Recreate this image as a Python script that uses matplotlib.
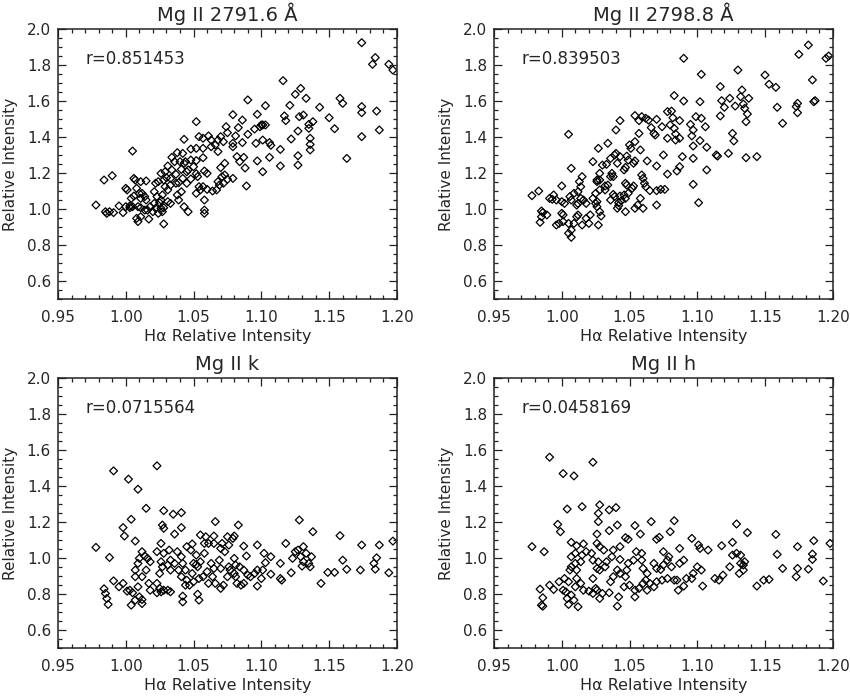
import matplotlib
matplotlib.use("Agg")
import matplotlib.pyplot as plt
from matplotlib.ticker import MultipleLocator, FormatStrFormatter

plt.rcParams['font.family'] = ['DejaVu Sans']

titles = ["Mg II 2791.6 Å", "Mg II 2798.8 Å", "Mg II k", "Mg II h"]
r_labels = ["r=0.851453", "r=0.839503", "r=0.0715564", "r=0.0458169"]
xlabel = "Hα Relative Intensity"
ylabel = "Relative Intensity"

# Panel 1: Mg II 2791.6 Å
x1 = [1.174, 1.184, 1.182, 1.194, 1.197, 1.116, 1.129, 1.125, 1.133, 1.090, 1.103, 1.121, 1.143, 1.158, 1.160,
      1.174, 1.174, 1.185, 1.117, 1.118, 1.128, 1.131, 1.135, 1.138, 1.150, 1.154, 1.187, 1.174, 1.163, 1.079,
      1.086, 1.097, 1.052, 1.083, 1.074, 1.099, 1.101, 1.103, 1.090, 1.081, 1.075, 1.070, 1.068, 1.061, 1.063,
      1.057, 1.054, 1.043, 1.048, 1.052, 1.057, 1.063, 1.066, 1.072, 1.079, 1.079, 1.086, 1.096, 1.101, 1.106,
      1.107, 1.114, 1.122, 1.127, 1.135, 1.136, 1.136, 1.136, 1.127, 1.127, 1.114, 1.106, 1.097, 1.101, 1.087,
      1.088, 1.082, 1.084, 1.073, 1.070, 1.073, 1.071, 1.075, 1.079, 1.069, 1.067, 1.064, 1.060, 1.057, 1.055,
      1.052, 1.054, 1.048, 1.046, 1.045, 1.042, 1.039, 1.041, 1.039, 1.038, 1.033, 1.031, 1.029, 1.027, 1.026,
      1.028, 1.027, 1.024, 1.022, 1.024, 1.026, 1.029, 1.031, 1.034, 1.036, 1.038, 1.040, 1.043, 1.041, 1.037,
      1.034, 1.033, 1.030, 1.028, 1.058, 1.060, 1.057, 1.052, 1.052, 1.053, 1.043, 1.046, 1.058, 1.058, 1.058,
      1.005, 0.984, 0.990, 0.978, 0.985, 0.986, 0.988, 0.991, 0.995, 0.998, 1.000, 1.003, 1.004, 1.006, 1.000,
      1.001, 1.006, 1.007, 1.011, 1.015, 1.008, 1.010, 1.012, 1.014, 1.011, 1.015, 1.009, 1.011, 1.008, 1.009,
      1.011, 1.014, 1.017, 1.020, 1.018, 1.021, 1.025, 1.028, 1.023, 1.021, 1.068, 1.072, 1.089, 1.068, 1.095,
      1.100, 1.042, 1.044, 1.048, 1.050, 1.045, 1.037, 1.033, 1.031, 1.026, 1.022, 1.016, 1.005, 1.003]
y1 = [1.924, 1.841, 1.804, 1.804, 1.772, 1.713, 1.670, 1.637, 1.615, 1.606, 1.574, 1.576, 1.565, 1.615, 1.587,
      1.569, 1.535, 1.544, 1.517, 1.491, 1.513, 1.522, 1.470, 1.485, 1.507, 1.446, 1.439, 1.402, 1.281, 1.524,
      1.494, 1.526, 1.485, 1.452, 1.457, 1.457, 1.467, 1.467, 1.415, 1.406, 1.424, 1.402, 1.383, 1.406, 1.383,
      1.393, 1.402, 1.387, 1.333, 1.337, 1.337, 1.346, 1.356, 1.374, 1.365, 1.346, 1.369, 1.365, 1.383, 1.369,
      1.354, 1.331, 1.389, 1.433, 1.448, 1.393, 1.359, 1.328, 1.296, 1.244, 1.239, 1.287, 1.267, 1.207, 1.287,
      1.228, 1.291, 1.263, 1.254, 1.230, 1.189, 1.180, 1.165, 1.170, 1.133, 1.106, 1.100, 1.109, 1.124, 1.106,
      1.087, 1.124, 1.167, 1.217, 1.143, 1.170, 1.146, 1.096, 1.050, 1.078, 1.133, 1.106, 1.124, 1.078, 1.050,
      1.007, 0.985, 0.976, 1.143, 1.152, 1.198, 1.207, 1.239, 1.287, 1.263, 1.313, 1.263, 1.254, 1.220, 1.193,
      1.217, 1.170, 1.174, 1.161, 1.211, 1.198, 1.285, 1.269, 1.196, 1.180, 1.013, 0.985, 0.994, 0.976, 1.050,
      1.322, 1.161, 1.185, 1.022, 0.985, 0.976, 0.985, 0.980, 1.017, 0.980, 1.013, 1.017, 1.059, 1.072, 1.115,
      1.106, 1.170, 1.161, 1.152, 1.156, 1.115, 1.087, 1.087, 1.069, 1.059, 1.050, 1.013, 1.007, 0.948, 0.930,
      0.957, 0.994, 0.944, 0.985, 1.013, 1.031, 1.035, 0.917, 1.069, 1.096, 1.152, 1.143, 1.128, 1.319, 1.444,
      1.467, 1.309, 1.263, 1.272, 1.235, 1.207, 1.143, 1.031, 1.041, 1.004, 1.004, 0.994, 1.013, 1.007]

# Panel 2: Mg II 2798.8 Å
x2 = [1.182, 1.175, 1.195, 1.197, 1.090, 1.103, 1.130, 1.150, 1.153, 1.158, 1.185, 1.117, 1.133, 1.138, 1.132,
      1.124, 1.118, 1.120, 1.128, 1.134, 1.135, 1.137, 1.136, 1.159, 1.163, 1.174, 1.173, 1.174, 1.186, 1.187,
      1.083, 1.090, 1.102, 1.117, 1.126, 1.127, 1.123, 1.114, 1.115, 1.136, 1.144, 1.107, 1.101, 1.097, 1.097,
      1.107, 1.097, 1.102, 1.106, 1.103, 1.099, 1.095, 1.097, 1.096, 1.089, 1.087, 1.085, 1.078, 1.070, 1.075,
      1.084, 1.087, 1.084, 1.083, 1.080, 1.078, 1.081, 1.082, 1.087, 1.078, 1.074, 1.070, 1.068, 1.069, 1.066,
      1.064, 1.059, 1.054, 1.057, 1.062, 1.057, 1.054, 1.050, 1.051, 1.058, 1.063, 1.059, 1.060, 1.061, 1.062,
      1.065, 1.070, 1.073, 1.076, 1.070, 1.060, 1.054, 1.058, 1.056, 1.053, 1.052, 1.048, 1.047, 1.049, 1.047,
      1.046, 1.043, 1.044, 1.042, 1.041, 1.047, 1.042, 1.039, 1.038, 1.036, 1.034, 1.036, 1.032, 1.032, 1.038,
      1.037, 1.033, 1.036, 1.039, 1.040, 1.043, 1.048, 1.047, 1.049, 1.054, 1.053, 1.046, 1.041, 1.030, 1.028,
      1.026, 1.023, 1.027, 1.034, 1.040, 1.043, 1.028, 1.026, 1.028, 1.025, 1.026, 1.023, 1.025, 1.026, 1.028,
      1.029, 1.027, 1.021, 1.018, 1.016, 1.014, 1.012, 1.014, 1.015, 1.013, 1.007, 1.005, 1.000, 0.994, 0.996,
      1.000, 1.002, 1.000, 1.001, 0.998, 0.996, 1.001, 1.005, 1.005, 1.007, 1.007, 1.009, 1.011, 1.012, 1.015,
      1.018, 1.020, 1.012, 1.011, 1.007, 1.009, 1.006, 0.978, 0.983, 0.991, 0.993, 0.985, 0.986, 0.989, 0.985,
      0.984]
y2 = [1.911, 1.859, 1.837, 1.850, 1.837, 1.748, 1.772, 1.744, 1.693, 1.676, 1.717, 1.680, 1.661, 1.615, 1.624,
      1.615, 1.602, 1.565, 1.572, 1.583, 1.559, 1.528, 1.485, 1.565, 1.476, 1.587, 1.569, 1.535, 1.596, 1.602,
      1.630, 1.600, 1.596, 1.517, 1.420, 1.378, 1.309, 1.300, 1.294, 1.285, 1.291, 1.217, 1.035, 1.137, 1.281,
      1.343, 1.350, 1.380, 1.457, 1.504, 1.513, 1.470, 1.439, 1.406, 1.291, 1.235, 1.211, 1.194, 1.239, 1.300,
      1.383, 1.393, 1.417, 1.448, 1.467, 1.541, 1.544, 1.507, 1.491, 1.393, 1.457, 1.498, 1.420, 1.411, 1.452,
      1.494, 1.513, 1.519, 1.491, 1.504, 1.420, 1.374, 1.356, 1.337, 1.328, 1.267, 1.189, 1.170, 1.143, 1.124,
      1.102, 1.102, 1.109, 1.109, 1.022, 1.004, 1.004, 1.059, 1.022, 1.128, 1.115, 1.133, 1.143, 1.087, 1.059,
      1.078, 1.072, 1.046, 1.019, 1.004, 0.985, 1.035, 1.069, 1.081, 1.050, 1.133, 1.180, 1.106, 1.128, 1.180,
      1.198, 1.248, 1.281, 1.300, 1.309, 1.291, 1.294, 1.231, 1.272, 1.267, 1.254, 1.217, 1.254, 1.244, 1.198,
      1.161, 1.263, 1.337, 1.365, 1.439, 1.491, 1.161, 1.152, 1.106, 1.087, 1.041, 1.059, 1.031, 1.013, 0.985,
      0.961, 0.911, 0.967, 1.031, 1.050, 1.059, 1.096, 1.124, 1.180, 1.152, 1.226, 1.415, 1.128, 1.078, 1.050,
      1.041, 1.031, 0.976, 0.967, 0.920, 0.911, 0.930, 0.920, 0.865, 0.883, 0.843, 0.920, 0.957, 0.967, 0.911,
      0.948, 0.920, 1.031, 1.022, 1.050, 1.087, 1.069, 1.074, 1.100, 1.059, 1.054, 0.989, 0.980, 0.967, 0.957,
      0.926]

# Panel 3: Mg II k
x3 = [1.023, 0.991, 1.002, 1.009, 1.015, 1.028, 1.035, 1.041, 1.004, 0.998, 0.999, 1.007, 1.027, 1.028, 1.036,
      1.041, 1.066, 1.083, 1.128, 1.138, 1.158, 1.174, 1.187, 1.197, 0.978, 0.988, 0.991, 0.995, 0.998, 1.001,
      1.003, 1.005, 0.984, 0.985, 0.986, 0.987, 1.004, 1.007, 1.010, 1.012, 1.012, 1.009, 1.007, 1.007, 1.009,
      1.010, 1.012, 1.014, 1.016, 1.018, 1.015, 1.012, 1.017, 1.018, 1.023, 1.025, 1.026, 1.028, 1.031, 1.033,
      1.042, 1.042, 1.053, 1.054, 1.023, 1.025, 1.027, 1.026, 1.023, 1.026, 1.028, 1.032, 1.033, 1.031, 1.033,
      1.036, 1.038, 1.041, 1.042, 1.044, 1.045, 1.049, 1.048, 1.052, 1.050, 1.053, 1.049, 1.045, 1.044, 1.047,
      1.050, 1.054, 1.057, 1.055, 1.058, 1.058, 1.055, 1.059, 1.061, 1.065, 1.065, 1.070, 1.071, 1.076, 1.079,
      1.080, 1.075, 1.073, 1.069, 1.065, 1.064, 1.061, 1.066, 1.070, 1.072, 1.075, 1.080, 1.082, 1.085, 1.087,
      1.090, 1.092, 1.097, 1.100, 1.101, 1.103, 1.102, 1.107, 1.087, 1.089, 1.084, 1.081, 1.080, 1.076, 1.070,
      1.060, 1.063, 1.077, 1.081, 1.087, 1.095, 1.097, 1.097, 1.107, 1.114, 1.114, 1.115, 1.118, 1.122, 1.123,
      1.125, 1.127, 1.129, 1.130, 1.131, 1.131, 1.133, 1.135, 1.136, 1.137, 1.144, 1.149, 1.154, 1.160, 1.163,
      1.173, 1.183, 1.184, 1.185, 1.194, 1.052, 1.041, 1.039]
y3 = [1.512, 1.484, 1.438, 1.382, 1.276, 1.263, 1.243, 1.252, 1.215, 1.169, 1.122, 1.094, 1.183, 1.165, 1.133,
      1.169, 1.202, 1.183, 1.211, 1.146, 1.124, 1.072, 1.072, 1.094, 1.059, 1.003, 0.873, 0.840, 0.859, 0.816,
      0.821, 0.807, 0.829, 0.803, 0.775, 0.742, 0.738, 0.766, 0.784, 0.769, 0.747, 0.840, 0.896, 0.933, 0.970,
      0.998, 1.035, 1.011, 0.998, 0.979, 0.933, 0.896, 0.859, 0.821, 0.807, 0.831, 0.812, 0.821, 0.821, 0.812,
      0.788, 0.756, 0.799, 0.766, 0.859, 0.914, 0.951, 0.979, 1.035, 1.081, 1.026, 1.044, 0.988, 0.961, 0.933,
      0.970, 1.035, 1.007, 0.970, 0.933, 1.063, 1.078, 1.044, 1.016, 0.970, 0.951, 0.914, 0.877, 0.849, 0.849,
      0.868, 0.886, 0.896, 0.979, 1.026, 1.081, 1.128, 1.118, 1.081, 1.122, 1.081, 1.053, 1.081, 1.072, 1.109,
      1.122, 1.118, 1.035, 0.988, 0.942, 0.896, 0.859, 0.859, 0.831, 0.849, 0.896, 0.914, 0.859, 0.849, 0.859,
      0.905, 0.896, 0.844, 0.886, 0.933, 0.974, 1.026, 1.007, 1.066, 1.011, 0.951, 0.961, 0.998, 0.951, 0.942,
      0.924, 0.970, 0.933, 0.896, 0.933, 0.914, 0.933, 1.072, 0.910, 0.970, 0.886, 0.877, 1.081, 0.918, 0.998,
      1.035, 1.044, 1.007, 0.955, 0.979, 1.063, 1.026, 0.970, 0.951, 1.007, 0.859, 0.920, 0.920, 0.988, 0.937,
      0.933, 0.970, 0.938, 1.001, 0.918, 0.964, 0.896, 0.933]

# Panel 4: Mg II h
x4 = [0.991, 1.023, 1.001, 1.009, 1.004, 1.015, 1.028, 1.027, 1.035, 1.040, 1.027, 0.997, 0.999, 1.007, 1.011,
      1.016, 1.026, 1.035, 1.041, 1.054, 1.058, 1.066, 1.083, 1.080, 1.072, 1.070, 1.047, 1.049, 1.043, 1.096,
      1.101, 1.102, 1.108, 1.118, 1.126, 1.129, 1.137, 1.158, 1.159, 1.174, 1.186, 1.198, 0.978, 0.987, 0.984,
      0.986, 0.985, 0.986, 0.991, 0.994, 0.998, 1.001, 1.003, 1.004, 1.005, 1.012, 1.007, 1.009, 1.010, 1.014,
      1.016, 1.020, 1.023, 1.025, 1.026, 1.028, 1.030, 1.035, 1.041, 1.042, 1.046, 1.050, 1.054, 1.054, 1.057,
      1.060, 1.063, 1.062, 1.065, 1.068, 1.070, 1.074, 1.078, 1.083, 1.085, 1.086, 1.090, 1.092, 1.096, 1.097,
      1.100, 1.103, 1.104, 1.113, 1.116, 1.119, 1.124, 1.126, 1.129, 1.132, 1.132, 1.134, 1.135, 1.134, 1.131,
      1.144, 1.149, 1.153, 1.163, 1.173, 1.174, 1.182, 1.185, 1.185, 1.193, 1.007, 1.010, 1.007, 1.011, 1.014,
      1.015, 1.018, 1.022, 1.026, 1.028, 1.031, 1.023, 1.027, 1.026, 1.023, 1.028, 1.032, 1.033, 1.037, 1.038,
      1.043, 1.041, 1.036, 1.038, 1.043, 1.047, 1.048, 1.049, 1.053, 1.055, 1.059, 1.059, 1.060, 1.063, 1.068,
      1.070, 1.073, 1.075, 1.078, 1.075, 1.079, 1.087, 1.081, 1.087, 1.090, 1.011, 1.005, 1.010, 1.006, 1.002]
y4 = [1.560, 1.532, 1.469, 1.456, 1.272, 1.285, 1.295, 1.248, 1.267, 1.280, 1.202, 1.187, 1.146, 1.087, 1.068,
      1.078, 1.133, 1.152, 1.183, 1.180, 1.133, 1.202, 1.207, 1.146, 1.115, 1.104, 1.113, 1.104, 1.063, 1.109,
      1.072, 1.053, 1.044, 1.068, 1.087, 1.189, 1.141, 1.131, 1.020, 1.063, 1.096, 1.081, 1.063, 1.035, 0.827,
      0.779, 0.738, 0.732, 0.849, 0.825, 0.868, 0.821, 0.812, 0.775, 0.742, 0.729, 0.794, 0.766, 0.840, 0.859,
      0.821, 0.816, 0.803, 0.831, 0.821, 0.775, 0.803, 0.807, 0.732, 0.784, 0.840, 0.849, 0.784, 0.821, 0.831,
      0.859, 0.821, 0.877, 0.859, 0.840, 0.868, 0.877, 0.886, 0.877, 0.877, 0.821, 0.844, 0.886, 0.886, 0.914,
      0.951, 0.933, 0.844, 0.886, 0.877, 0.905, 0.951, 1.016, 1.026, 1.016, 0.970, 0.961, 0.979, 0.933, 0.914,
      0.844, 0.877, 0.881, 0.942, 0.896, 0.942, 0.938, 0.992, 1.022, 0.872, 1.007, 0.970, 0.951, 0.933, 0.979,
      1.016, 1.035, 1.026, 1.081, 1.063, 1.044, 0.988, 0.979, 0.942, 0.886, 0.933, 0.951, 0.979, 1.007, 1.044,
      0.992, 0.933, 0.868, 0.896, 0.914, 0.896, 0.933, 0.970, 0.988, 1.035, 1.026, 0.988, 0.942, 0.914, 0.970,
      0.942, 0.936, 0.961, 0.988, 1.035, 1.007, 1.053, 0.951, 0.970, 0.988, 0.886, 0.868, 1.026, 0.933, 0.886]

xs = [x1, x2, x3, x4]
ys = [y1, y2, y3, y4]

fig = plt.figure(figsize=(8.5, 6.97), dpi=100)
positions = [
    [0.0682, 0.5710, 0.3988, 0.3874],
    [0.5812, 0.5710, 0.3985, 0.3874],
    [0.0682, 0.0703, 0.3988, 0.3874],
    [0.5812, 0.0703, 0.3985, 0.3874],
]
txt_color = '#262626'
for i in range(4):
    ax = fig.add_axes(positions[i])
    ax.scatter(xs[i], ys[i], marker='D', s=16, facecolors='none',
               edgecolors='black', linewidths=0.9)
    ax.set_xlim(0.95, 1.20)
    ax.set_ylim(0.5, 2.0)
    ax.xaxis.set_major_locator(MultipleLocator(0.05))
    ax.xaxis.set_minor_locator(MultipleLocator(0.01))
    ax.yaxis.set_minor_locator(MultipleLocator(0.05))
    ax.xaxis.set_major_formatter(FormatStrFormatter('%.2f'))
    ax.yaxis.set_major_formatter(FormatStrFormatter('%.1f'))
    ax.set_yticks([0.6, 0.8, 1.0, 1.2, 1.4, 1.6, 1.8, 2.0])
    ax.tick_params(which='both', direction='in', top=True, right=True,
                   colors='#222222', labelcolor=txt_color, labelsize=11, width=0.9)
    ax.tick_params(which='major', length=5.5)
    ax.tick_params(axis='x', which='major', pad=8)
    ax.tick_params(axis='y', which='major', pad=5)
    ax.tick_params(which='minor', length=2.8)
    for sp in ax.spines.values():
        sp.set_linewidth(1.1)
        sp.set_color('#222222')
    ax.set_title(titles[i], fontsize=14, color=txt_color, pad=6)
    ax.set_xlabel(xlabel, fontsize=11.5, color=txt_color, labelpad=3)
    ax.set_ylabel(ylabel, fontsize=11, color=txt_color, labelpad=6)
    ax.text(0.970, 1.835, r_labels[i], fontsize=12, color=txt_color,
            ha='left', va='center')

fig.savefig("out.png", dpi=100)
